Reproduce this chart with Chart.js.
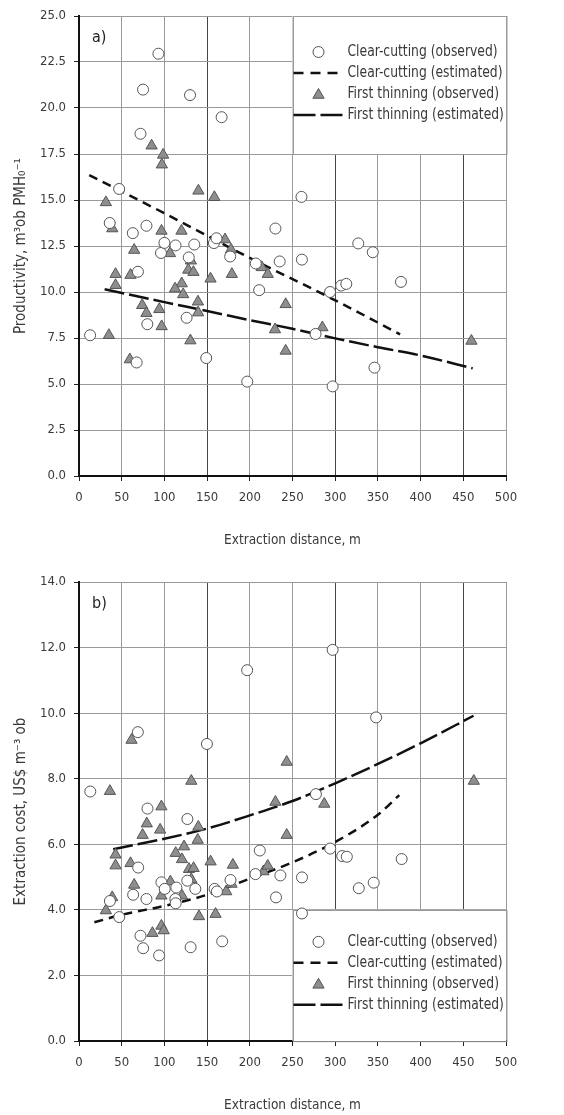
<!DOCTYPE html>
<html><head><meta charset="utf-8">
<script src="https://cdn.jsdelivr.net/npm/chart.js@4"></script>
<style>
html,body{margin:0;padding:0;background:#fff;}
#wrap{position:relative;width:564px;height:1115px;overflow:hidden;}
canvas{position:absolute;left:0;}
#ca{top:0}
#cb{top:557px}
</style></head><body>
<div id="wrap"><canvas id="ca" width="564" height="557"></canvas><canvas id="cb" width="564" height="558"></canvas></div>
<script>
// ---------- DATA ----------
const distanceTickStep = 50;
const seriesLabels = ['Clear-cutting (observed)', 'Clear-cutting (estimated)', 'First thinning (observed)', 'First thinning (estimated)'];

// Panel a) productivity
const ccObsDistA = [13,36,47,63,69,72,75,79,80,67.5,93,96,100,113,126,128.5,130,135,149,158,161,167,177,197,207,211,230,235,260.5,261,277,294,297,307,313,327,344,346,377];
const ccObsProdA = [7.65,13.75,15.6,13.2,11.1,18.6,21.0,13.6,8.25,6.17,22.95,12.12,12.67,12.53,8.6,11.88,20.7,12.58,6.41,12.66,12.92,19.5,11.93,5.13,11.55,10.1,13.45,11.66,15.17,11.76,7.72,10.0,4.87,10.35,10.44,12.64,12.16,5.89,10.55];
const ftObsDistA = [31.5,39,85,98.5,97,64.6,96.6,106.5,120,139.8,158.5,171,178,131,128,134,42.8,60.3,154,179,214,221,42.8,120.3,112.5,122,139.3,74,79,94,96.8,139.5,35,59.5,130.4,229.5,242,242,285,459.5];
const ftObsProdA = [14.87,13.45,17.95,17.45,16.92,12.28,13.32,12.1,13.32,15.5,15.15,12.85,12.3,11.7,11.2,11.08,10.97,10.92,10.72,10.97,11.34,10.97,10.37,10.46,10.18,9.87,9.47,9.28,8.85,9.06,8.13,8.88,7.65,6.33,7.36,7.96,9.33,6.8,8.07,7.34];
const ccEstDistA = [12,100,200,300,376];
const ccEstProdA = [16.35,14.28,11.85,9.55,7.7];
const ftEstDistA = [30,100,150,200,250,300,350,400,461];
const ftEstProdA = [10.15,9.45,8.97,8.47,8.0,7.48,7.0,6.55,5.85];

// Panel b) extraction cost
const ccObsDistB = [13.2,68.9,80.2,126.9,149.8,196.9,297,347.9,277.4,69.3,36.2,47.1,63.4,79,72,75.1,93.8,96.5,100.4,114,112.8,113.2,126.8,136.2,130.7,158.8,161.5,167.7,177.4,206.6,211.7,235.8,230.7,261.1,261.1,294.2,308.2,313.6,327.6,345.1,377.8];
const ccObsCostB = [7.61,9.42,7.09,6.77,9.06,11.31,11.93,9.87,7.53,5.29,4.27,3.78,4.46,4.33,3.21,2.83,2.61,4.84,4.64,4.68,4.33,4.2,4.89,4.64,2.86,4.64,4.56,3.04,4.91,5.09,5.81,5.05,4.38,4.99,3.89,5.87,5.64,5.62,4.66,4.83,5.55];
const ftObsDistB = [61.5,36.2,131.5,243.2,230,287.2,462.3,96.5,79.4,95,74.5,139.7,139,243.2,42.8,42.8,60.3,64.6,113.2,123,120.6,128.8,134.2,131.5,154.1,180.2,107,38.9,31.5,96.5,120.6,140.5,159.9,172.4,178.6,216,221,86,96.5,99.2];
const ftObsCostB = [9.18,7.62,7.93,8.51,7.29,7.23,7.93,7.15,6.63,6.44,6.28,6.53,6.13,6.28,5.68,5.35,5.42,4.76,5.73,5.93,5.54,5.24,5.27,4.93,5.47,5.37,4.86,4.38,3.98,4.43,4.43,3.8,3.87,4.56,4.79,5.17,5.34,3.29,3.51,3.37];
const ccEstDistB = [18,50,100,150,200,250,300,350,375];
const ccEstCostB = [3.62,3.85,4.12,4.46,4.95,5.45,6.07,6.9,7.5];
const ftEstDistB = [40,100,150,200,250,300,350,400,462];
const ftEstCostB = [5.85,6.17,6.48,6.88,7.32,7.86,8.45,9.08,9.92];

// ---------- STYLE ----------
const FONT = '"DejaVu Sans Condensed", "Liberation Sans Narrow", "Liberation Sans", sans-serif';
const TXT = '#3a3a3a';
const CC_DASH = [9, 6];
const FT_DASH = [20, 5];

function pts(xs, ys) { return xs.map((x, i) => ({x: x, y: ys[i]})); }

function buildDatasets(ccOx, ccOy, ccEx, ccEy, ftOx, ftOy, ftEx, ftEy) {
  return [
    {label: seriesLabels[0], type: 'scatter', data: pts(ccOx, ccOy), pointStyle: 'circle', pointRadius: 5.5,
     backgroundColor: '#ffffff', borderColor: '#555', borderWidth: 1, order: 0},
    {label: seriesLabels[1], type: 'line', data: pts(ccEx, ccEy), showLine: true, pointRadius: 0, borderColor: '#111',
     borderWidth: 2.5, borderDash: CC_DASH, fill: false, cubicInterpolationMode: 'monotone', order: 2},
    {label: seriesLabels[2], type: 'scatter', data: pts(ftOx, ftOy), pointStyle: 'triangle', pointRadius: 6.5,
     backgroundColor: '#8e8e8e', borderColor: '#555', borderWidth: 1, order: 0},
    {label: seriesLabels[3], type: 'line', data: pts(ftEx, ftEy), showLine: true, pointRadius: 0, borderColor: '#111',
     borderWidth: 2.5, borderDash: FT_DASH, fill: false, cubicInterpolationMode: 'monotone', order: 2}
  ];
}

const boxLegend = {
  id: 'boxLegend',
  beforeDatasetsDraw(chart, args, o) {
    const {ctx, scales: {x, y}} = chart;
    const l = x.getPixelForValue(o.x0), r = x.getPixelForValue(o.x1);
    const t = y.getPixelForValue(o.y1), b = y.getPixelForValue(o.y0);
    ctx.save();
    ctx.fillStyle = '#fff';
    ctx.fillRect(l, t, r - l, b - t);
    ctx.strokeStyle = '#9a9a9a';
    ctx.lineWidth = 1;
    ctx.strokeRect(Math.round(l) + 0.5, Math.round(t) + 0.5, r - l, b - t);
    ctx.restore();
  },
  afterDatasetsDraw(chart, args, o) {
    const {ctx, scales: {x, y}} = chart;
    const l = x.getPixelForValue(o.x0);
    const t = y.getPixelForValue(o.y1);
    ctx.save();
    // panel letter
    ctx.fillStyle = '#222';
    ctx.font = '16px ' + FONT;
    ctx.textBaseline = 'middle';
    ctx.textAlign = 'left';
    ctx.fillText(o.letter, chart.chartArea.left + 13, chart.chartArea.top + o.letterDy);
    // entries
    ctx.font = '15.5px ' + FONT;
    const sx = Math.min(1, 155 / ctx.measureText(seriesLabels[1]).width);
    chart.data.datasets.forEach((ds, i) => {
      const yy = t + o.firstRow + i * o.rowGap;
      const cx = l + 26;
      if (ds.type === 'line') {
        ctx.save();
        ctx.strokeStyle = ds.borderColor;
        ctx.lineWidth = ds.borderWidth;
        ctx.setLineDash(i === 1 ? [10, 7] : [22, 5]);
        ctx.beginPath();
        ctx.moveTo(l + 1, yy);
        ctx.lineTo(l + 51, yy);
        ctx.stroke();
        ctx.restore();
      } else if (ds.pointStyle === 'circle') {
        ctx.beginPath();
        ctx.arc(cx, yy, 5.5, 0, Math.PI * 2);
        ctx.fillStyle = '#fff'; ctx.fill();
        ctx.strokeStyle = '#555'; ctx.lineWidth = 1; ctx.stroke();
      } else {
        const rr = 6.5;
        ctx.beginPath();
        for (let k = 0; k < 3; k++) {
          const a = k * 2 * Math.PI / 3;
          const px = cx + Math.sin(a) * rr, py = yy + 1 - Math.cos(a) * rr;
          if (k === 0) ctx.moveTo(px, py); else ctx.lineTo(px, py);
        }
        ctx.closePath();
        ctx.fillStyle = '#8e8e8e'; ctx.fill();
        ctx.strokeStyle = '#555'; ctx.lineWidth = 1; ctx.stroke();
      }
      ctx.save();
      ctx.fillStyle = TXT;
      ctx.translate(l + 55, yy);
      ctx.scale(sx, 1);
      ctx.fillText(ds.label, 0, 0);
      ctx.restore();
    });
    ctx.restore();
  }
};

function makeChart(id, datasets, yMax, yStep, yTitle, pad, xAxisH, xTitlePad, legendOpts) {
  return new Chart(document.getElementById(id), {
    data: {datasets: datasets},
    plugins: [boxLegend],
    options: {
      responsive: false, animation: false, devicePixelRatio: 1,
      layout: {padding: pad},
      plugins: {legend: {display: false}, tooltip: {enabled: false}, boxLegend: legendOpts},
      scales: {
        x: {
          type: 'linear', min: 0, max: 500,
          ticks: {stepSize: distanceTickStep, color: TXT, font: {family: FONT, size: 13}, padding: 9, maxRotation: 0},
          grid: {color: c => (c.tick && c.tick.value % 150 === 0 && c.tick.value > 0) ? '#444' : '#9a9a9a', lineWidth: 1,
                 tickColor: '#222', tickLength: 5},
          border: {color: '#111', width: 2},
          title: {display: true, text: 'Extraction distance, m', color: TXT, font: {family: FONT, size: 13.5}, padding: {top: 0, bottom: xTitlePad}},
          afterFit: s => { s.height = xAxisH; }
        },
        y: {
          type: 'linear', min: 0, max: yMax,
          ticks: {stepSize: yStep, color: TXT, font: {family: FONT, size: 13}, padding: 8, callback: v => Number(v).toFixed(1)},
          grid: {color: '#9a9a9a', lineWidth: 1, tickColor: '#222', tickLength: 5},
          border: {color: '#111', width: 2},
          title: {display: true, text: yTitle, color: TXT, font: {family: FONT, size: 15}, padding: {top: 12, bottom: 0}},
          afterFit: s => { s.width = 79; }
        }
      }
    }
  });
}

makeChart('ca',
  buildDatasets(ccObsDistA, ccObsProdA, ccEstDistA, ccEstProdA, ftObsDistA, ftObsProdA, ftEstDistA, ftEstProdA),
  25, 2.5, 'Productivity, m\u00B3ob PMH\u2080\u207B\u00B9',
  {top: 16, right: 58, bottom: 0, left: 0}, 81, 8,
  {x0: 250, x1: 500, y0: 17.5, y1: 25, firstRow: 36, rowGap: 21, letter: 'a)', letterDy: 22});

makeChart('cb',
  buildDatasets(ccObsDistB, ccObsCostB, ccEstDistB, ccEstCostB, ftObsDistB, ftObsCostB, ftEstDistB, ftEstCostB),
  14, 2, 'Extraction cost, US$ m\u207B\u00B3 ob',
  {top: 25, right: 58, bottom: 0, left: 0}, 74, 1,
  {x0: 250, x1: 500, y0: 0, y1: 4, firstRow: 32, rowGap: 21, letter: 'b)', letterDy: 22});
</script>
</body></html>
